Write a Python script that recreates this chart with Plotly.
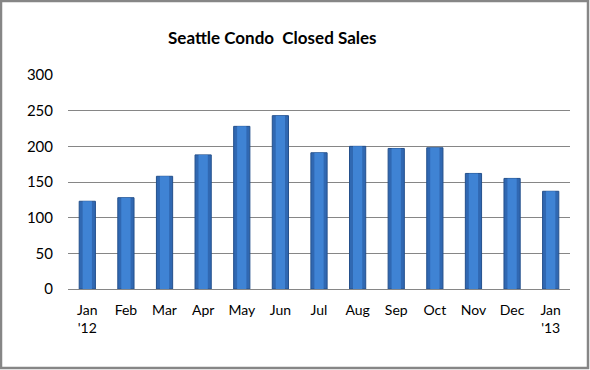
import plotly.graph_objects as go

months = ["Jan<br>'12", "Feb", "Mar", "Apr", "May", "Jun", "Jul", "Aug", "Sep", "Oct", "Nov", "Dec", "Jan<br>'13"]
sales = [123, 128, 158, 188, 228, 243, 191, 200, 197, 198, 162, 155, 137]
y_ticks = [0, 50, 100, 150, 200, 250, 300]

W, H = 590, 370
ML, MR, MT, MB = 68, 20, 75, 81
PW, PH = W - ML - MR, H - MT - MB

def px_to_paper_x(p):
    return (p - ML) / PW

def px_to_paper_y(p):
    return (H - MB - p) / PH

fig = go.Figure()
# outer (darker edge) bar
fig.add_trace(go.Bar(
    x=months, y=sales,
    marker=dict(color="#3068b2", line=dict(color="#24508c", width=1)),
    width=0.42, hoverinfo="skip",
))
# inner highlight for a shaded look
fig.add_trace(go.Bar(
    x=months, y=sales,
    marker=dict(color="#3f83d4", line=dict(width=0)),
    width=0.24,
))

font = "Lato, 'Open Sans', sans-serif"
fig.update_layout(
    width=W, height=H,
    barmode="overlay",
    margin=dict(l=ML, r=MR, t=MT, b=MB),
    paper_bgcolor="white", plot_bgcolor="white",
    showlegend=False,
    font=dict(family=font, size=14, color="#000000"),
    xaxis=dict(showgrid=False, showline=True, linecolor="#868686", linewidth=1,
               ticks="", tickfont=dict(size=14), ticklabelstandoff=8),
    yaxis=dict(range=[0, 300], tickvals=y_ticks, showgrid=True, gridcolor="#868686",
               gridwidth=1, showline=False, zeroline=False, ticks="",
               tickfont=dict(size=15), ticklabelstandoff=14),
    annotations=[dict(text="<b>Seattle Condo  Closed Sales</b>", xref="paper", yref="paper",
                      x=px_to_paper_x(272), y=px_to_paper_y(37), showarrow=False,
                      font=dict(size=17, family=font), xanchor="center", yanchor="middle")],
    shapes=[dict(type="rect", xref="paper", yref="paper",
                 x0=px_to_paper_x(1), x1=px_to_paper_x(588),
                 y0=px_to_paper_y(368), y1=px_to_paper_y(1),
                 line=dict(color="#868686", width=2.5), layer="below")],
)

fig.write_html("out.html", config={"displayModeBar": False},
               post_script="document.body.style.margin='0';document.body.style.overflow='hidden';")
